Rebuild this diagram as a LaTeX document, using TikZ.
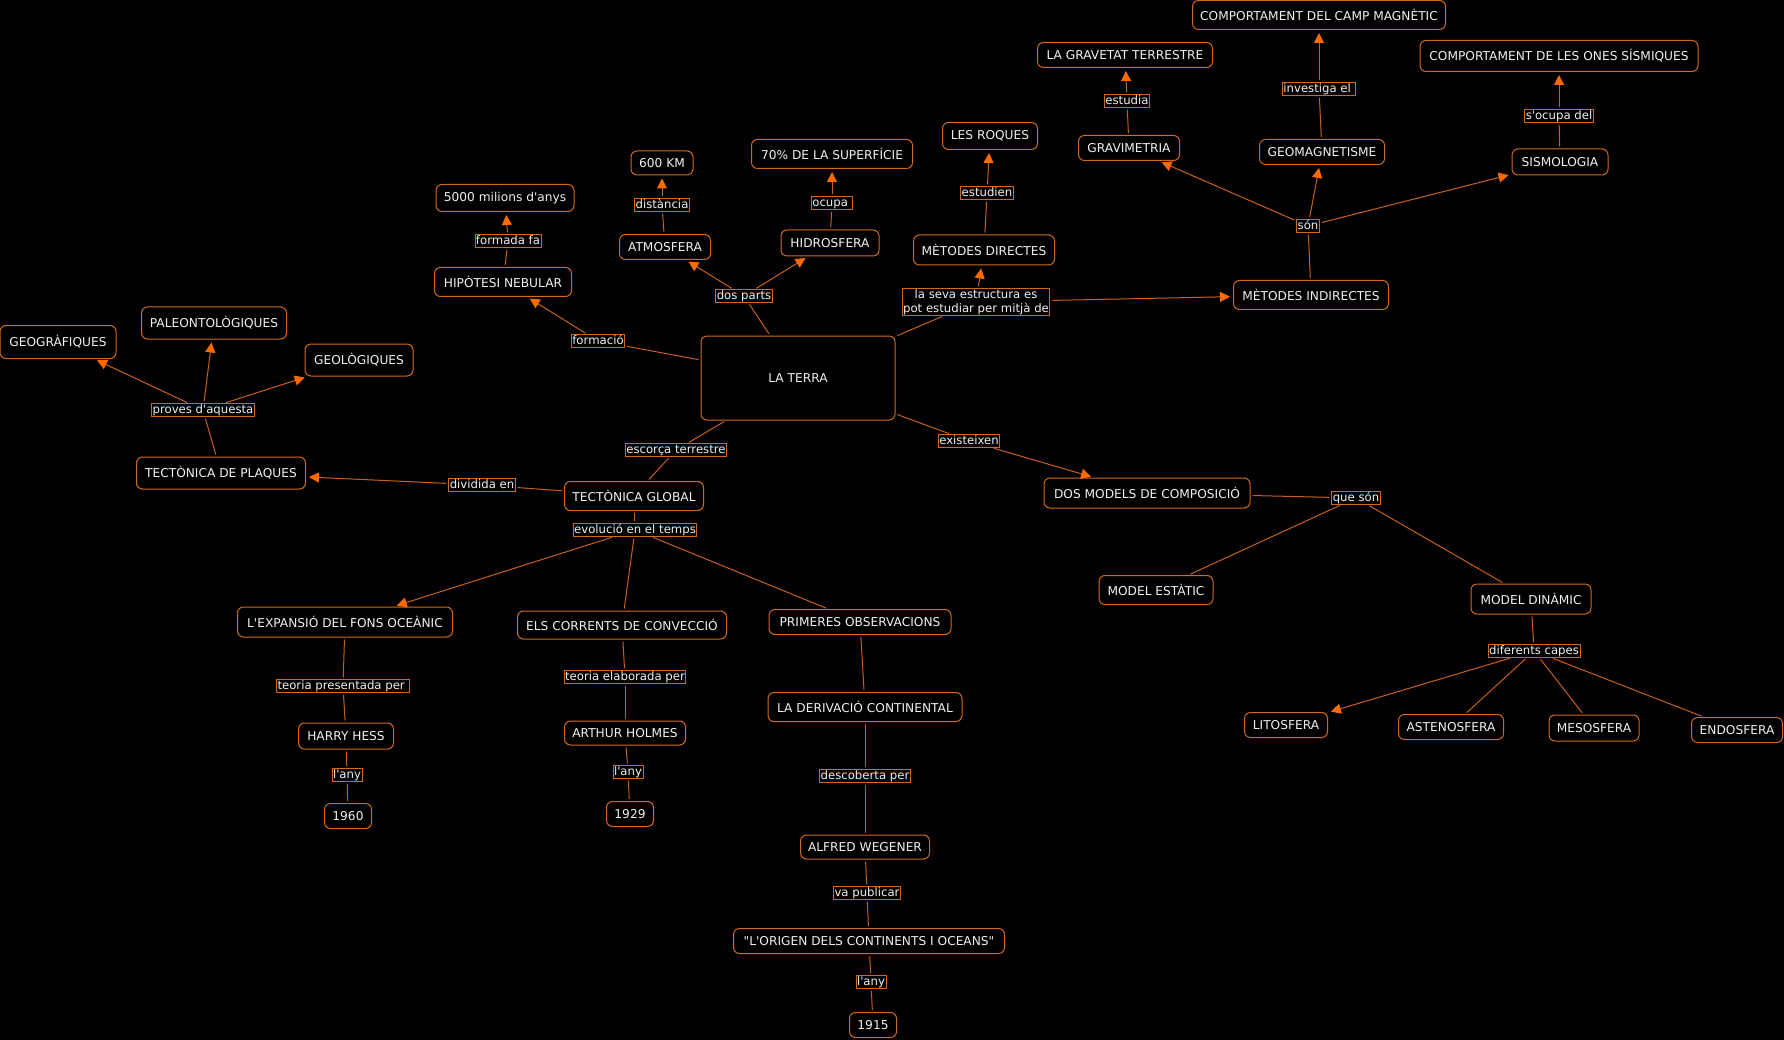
\documentclass[tikz,border=0pt]{standalone}
\usepackage{fontspec}
\setmainfont{DejaVu Sans}[Ligatures=TeXOff]
\usetikzlibrary{arrows.meta}
\definecolor{bord}{HTML}{D2691E}
\definecolor{lin}{HTML}{C8601A}
\definecolor{tipc}{HTML}{FF6A00}
\definecolor{txt}{HTML}{F0F0F0}
\tikzset{
  concept/.style={draw=bord, line width=1pt, rounded corners=6pt, fill=black, text=txt,
    font=\fontsize{12.2}{14}\selectfont, inner sep=0pt, align=center},
  sz/.style 2 args={minimum width=#1pt, minimum height=#2pt},
  labbase/.style={draw=bord, line width=0.9pt, fill=black, text=txt,
    font=\fontsize{11.7}{14}\selectfont, inner xsep=1pt, inner ysep=0.6pt, align=center},
  lab/.style={labbase, text height=8.7pt, text depth=2.5pt},
  ln/.style={draw=lin, line width=1pt, shorten <=2pt, shorten >=2pt},
  ar/.style={draw=lin, line width=1pt, shorten <=2pt, shorten >=3pt,
    -{Triangle[length=10pt,width=10pt,color=tipc]}}
}
\begin{document}
\begin{tikzpicture}[x=1pt,y=-1pt]
\fill[black] (0,0) rectangle (1784,1040);
\useasboundingbox (0,0) rectangle (1784,1040);

% concepts
\node[concept, sz={116}{33}] (geog) at (58,342) {GEOGRÀFIQUES};
\node[concept, sz={145}{32}] (paleo) at (214,323) {PALEONTOLÒGIQUES};
\node[concept, sz={108}{32}] (geol) at (359,360) {GEOLÒGIQUES};
\node[concept, sz={169}{32}] (tplaq) at (221,473) {TECTÒNICA DE PLAQUES};
\node[concept, sz={137}{29}] (hipo) at (503,282) {HIPÒTESI NEBULAR};
\node[concept, sz={138}{27}] (m5000) at (505,198) {5000 milions d'anys};
\node[concept, sz={91}{25}] (atm) at (665,247) {ATMOSFERA};
\node[concept, sz={62}{24}] (km600) at (662,163) {600 KM};
\node[concept, sz={98}{26}] (hidro) at (830,243) {HIDROSFERA};
\node[concept, sz={161}{29}] (sup70) at (832,154) {70\% DE LA SUPERFÍCIE};
\node[concept, sz={194}{84}] (terra) at (798,378) {LA TERRA};
\node[concept, sz={95}{27}] (roques) at (990,136) {LES ROQUES};
\node[concept, sz={141}{30}] (mdir) at (984,250) {MÈTODES DIRECTES};
\node[concept, sz={101}{25}] (grav) at (1129,148) {GRAVIMETRIA};
\node[concept, sz={175}{25}] (gravt) at (1125,55) {LA GRAVETAT TERRESTRE};
\node[concept, sz={125}{25}] (geomag) at (1322,152) {GEOMAGNETISME};
\node[concept, sz={253}{29}] (campm) at (1319,15) {COMPORTAMENT DEL CAMP MAGNÈTIC};
\node[concept, sz={96}{26}] (sismo) at (1560,162) {SISMOLOGIA};
\node[concept, sz={278}{31}] (ones) at (1559,56) {COMPORTAMENT DE LES ONES SÍSMIQUES};
\node[concept, sz={155}{29}] (mind) at (1311,295) {MÈTODES INDIRECTES};
\node[concept, sz={139}{29}] (tglob) at (634,496) {TECTÒNICA GLOBAL};
\node[concept, sz={206}{30}] (dosm) at (1147,493) {DOS MODELS DE COMPOSICIÓ};
\node[concept, sz={114}{29}] (mest) at (1156,590) {MODEL ESTÀTIC};
\node[concept, sz={120}{30}] (mdin) at (1531,599) {MODEL DINÀMIC};
\node[concept, sz={83}{25}] (lito) at (1286,725) {LITOSFERA};
\node[concept, sz={105}{25}] (asteno) at (1451,727) {ASTENOSFERA};
\node[concept, sz={90}{26}] (meso) at (1594,728) {MESOSFERA};
\node[concept, sz={91}{25}] (endo) at (1737,730) {ENDOSFERA};
\node[concept, sz={215}{30}] (expan) at (345,622) {L'EXPANSIÓ DEL FONS OCEÀNIC};
\node[concept, sz={209}{28}] (corr) at (622,625) {ELS CORRENTS DE CONVECCIÓ};
\node[concept, sz={182}{25}] (prim) at (860,622) {PRIMERES OBSERVACIONS};
\node[concept, sz={95}{26}] (hess) at (346,736) {HARRY HESS};
\node[concept, sz={121}{24}] (holmes) at (625,733) {ARTHUR HOLMES};
\node[concept, sz={47}{25}] (y1960) at (348,816) {1960};
\node[concept, sz={47}{25}] (y1929) at (630,814) {1929};
\node[concept, sz={194}{29}] (deriv) at (865,707) {LA DERIVACIÓ CONTINENTAL};
\node[concept, sz={129}{24}] (alfred) at (865,847) {ALFRED WEGENER};
\node[concept, sz={271}{25}] (origen) at (869,941) {"L'ORIGEN DELS CONTINENTS I OCEANS"};
\node[concept, sz={47}{25}] (y1915) at (873,1025) {1915};

% linking phrases
\node[lab] (proves) at (203,410) {proves d'aquesta};
\node[lab] (formacio) at (598,341) {formació};
\node[lab] (formada) at (508,241) {formada fa};
\node[lab] (distancia) at (662,205) {distància};
\node[lab] (ocupa) at (832,203) {ocupa~};
\node[lab] (dosp) at (744,296) {dos parts};
\node[labbase] (seva) at (976,302) {la seva estructura es\\pot estudiar per mitjà de};
\node[lab] (estudien) at (987,193) {estudien};
\node[lab] (estudia) at (1127,101) {estudia};
\node[lab] (investiga) at (1319,89) {investiga el~};
\node[lab] (socupa) at (1559,116) {s'ocupa del};
\node[lab] (son) at (1308,226) {són};
\node[lab] (escorca) at (676,450) {escorça terrestre};
\node[lab] (dividida) at (482,485) {dividida en};
\node[lab] (evol) at (635,530) {evolució en el temps};
\node[lab] (exist) at (969,441) {existeixen};
\node[lab] (queson) at (1356,498) {que són};
\node[lab] (difer) at (1534,651) {diferents capes};
\node[lab] (tpres) at (343,686) {teoria presentada per~};
\node[lab] (telab) at (625,677) {teoria elaborada per};
\node[lab] (lany1) at (347,775) {l'any};
\node[lab] (lany2) at (628,772) {l'any};
\node[lab] (descob) at (865,776) {descoberta per};
\node[lab] (vapub) at (867,893) {va publicar};
\node[lab] (lany3) at (871,982) {l'any};

% connectors
\draw[ln] (tplaq) -- (proves);
\draw[ar] (proves) -- (geog);
\draw[ar] (proves) -- (paleo);
\draw[ar] (proves) -- (geol);
\draw[ln] (terra) -- (formacio);
\draw[ar] (formacio) -- (hipo);
\draw[ln] (hipo) -- (formada);
\draw[ar] (formada) -- (m5000);
\draw[ln] (terra) -- (dosp);
\draw[ar] (dosp) -- (atm);
\draw[ar] (dosp) -- (hidro);
\draw[ln] (atm) -- (distancia);
\draw[ar] (distancia) -- (km600);
\draw[ln] (hidro) -- (ocupa);
\draw[ar] (ocupa) -- (sup70);
\draw[ln] (terra) -- (seva);
\draw[ar] (seva) -- (mdir);
\draw[ar] (seva) -- (mind);
\draw[ln] (mdir) -- (estudien);
\draw[ar] (estudien) -- (roques);
\draw[ln] (mind) -- (son);
\draw[ar] (son) -- (grav);
\draw[ar] (son) -- (geomag);
\draw[ar] (son) -- (sismo);
\draw[ln] (grav) -- (estudia);
\draw[ar] (estudia) -- (gravt);
\draw[ln] (geomag) -- (investiga);
\draw[ar] (investiga) -- (campm);
\draw[ln] (sismo) -- (socupa);
\draw[ar] (socupa) -- (ones);
\draw[ln] (terra) -- (escorca);
\draw[ln] (escorca) -- (tglob);
\draw[ln] (tglob) -- (dividida);
\draw[ar] (dividida) -- (tplaq);
\draw[ln] (tglob) -- (evol);
\draw[ar] (evol) -- (expan);
\draw[ln] (evol) -- (corr);
\draw[ln] (evol) -- (prim);
\draw[ln] (expan) -- (tpres);
\draw[ln] (tpres) -- (hess);
\draw[ln] (hess) -- (lany1);
\draw[ln] (lany1) -- (y1960);
\draw[ln] (corr) -- (telab);
\draw[ln] (telab) -- (holmes);
\draw[ln] (holmes) -- (lany2);
\draw[ln] (lany2) -- (y1929);
\draw[ln] (prim) -- (deriv);
\draw[ln] (deriv) -- (descob);
\draw[ln] (descob) -- (alfred);
\draw[ln] (alfred) -- (vapub);
\draw[ln] (vapub) -- (origen);
\draw[ln] (origen) -- (lany3);
\draw[ln] (lany3) -- (y1915);
\draw[ln] (terra) -- (exist);
\draw[ar] (exist) -- (dosm);
\draw[ln] (dosm) -- (queson);
\draw[ln] (queson) -- (mest);
\draw[ln] (queson) -- (mdin);
\draw[ln] (mdin) -- (difer);
\draw[ar] (difer) -- (lito);
\draw[ln] (difer) -- (asteno);
\draw[ln] (difer) -- (meso);
\draw[ln] (difer) -- (endo);
\end{tikzpicture}
\end{document}
